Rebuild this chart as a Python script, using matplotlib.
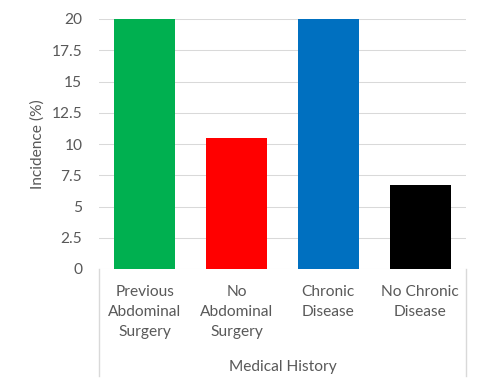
import matplotlib
matplotlib.use("Agg")
import matplotlib.pyplot as plt
from matplotlib.lines import Line2D

# data
categories = ["Previous\nAbdominal\nSurgery", "No\nAbdominal\nSurgery",
              "Chronic\nDisease", "No Chronic\nDisease"]
values = [20, 10.5, 20, 6.7]
colors = ["#00B050", "#FF0000", "#0070C0", "#000000"]
yticks = [0, 2.5, 5, 7.5, 10, 12.5, 15, 17.5, 20]
ytick_labels = ["0", "2.5", "5", "7.5", "10", "12.5", "15", "17.5", "20"]

TXT = "#595959"
GRID = "#D9D9D9"
W, H = 486, 384
FS = 11.2

plt.rcParams['font.family'] = ['Lato', 'DejaVu Sans']

fig = plt.figure(figsize=(W / 100, H / 100), dpi=100)
x0, x1, ytop, ybot = 99, 466, 19, 269
ax = fig.add_axes([x0 / W, 1 - ybot / H, (x1 - x0) / W, (ybot - ytop) / H])

xs = list(range(len(values)))
ax.bar(xs, values, width=0.665, color=colors, zorder=3)
ax.set_xlim(-0.5, len(values) - 0.5)
ax.set_ylim(0, 20)

ax.set_yticks(yticks)
ax.set_yticklabels(ytick_labels, color=TXT, fontsize=FS)
ax.tick_params(axis='y', length=0, pad=12)
ax.set_xticks([])
for s in ax.spines.values():
    s.set_visible(False)
ax.grid(axis='y', color=GRID, linewidth=0.75, zorder=0)
ax.set_axisbelow(True)

ax.set_ylabel("Incidence (%)", color=TXT, fontsize=FS, labelpad=5)

# category labels below the axis
for i, lab in enumerate(categories):
    ax.text(i, -1.25, lab, ha='center', va='top', color=TXT, fontsize=FS,
            linespacing=1.55, transform=ax.transData)

fig.text((x0 + x1) / 2 / W, 1 - 367 / H, "Medical History", ha='center',
         va='center', color=TXT, fontsize=FS)

# category box lines
for xp in (x0, x1):
    fig.add_artist(Line2D([xp / W, xp / W], [1 - ybot / H, 1 - 376 / H],
                          color=GRID, linewidth=1.0))

fig.savefig("out.png", dpi=100)
